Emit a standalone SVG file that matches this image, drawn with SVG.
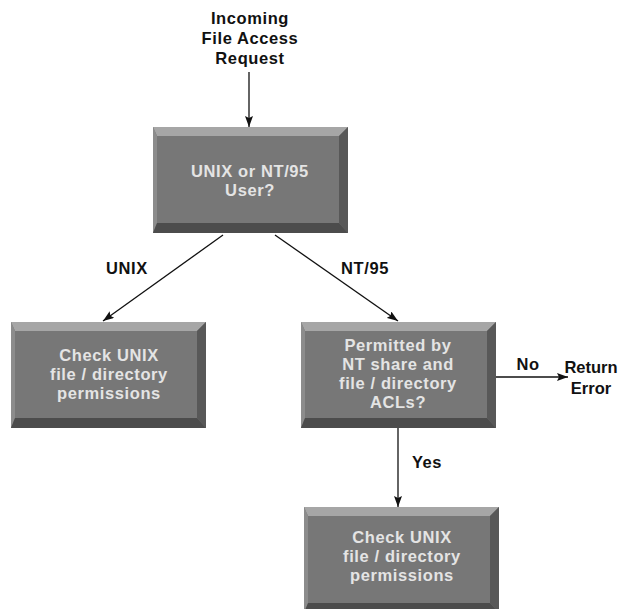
<svg xmlns="http://www.w3.org/2000/svg" xmlns:xlink="http://www.w3.org/1999/xlink" width="619" height="609" viewBox="0 0 619 609">
<style>
.t{font-family:"Liberation Sans",Arial,sans-serif;font-weight:bold;font-size:16.5px;letter-spacing:0.6px;text-anchor:middle}
.bt{fill:#e4e4e4}
.lb{fill:#111}
.ns{letter-spacing:0}
.c{stroke:#111;stroke-width:1.3;fill:none;marker-end:url(#ah)}
</style>
<defs>
<marker id="ah" markerUnits="userSpaceOnUse" markerWidth="12" markerHeight="8" refX="11" refY="4" orient="auto">
<path d="M0,0 L11,4 L0,8 L2,4 z" fill="#111"/>
</marker>
<symbol id="box" overflow="visible">
<rect x="0" y="0" width="195" height="106" fill="#777"/>
<polygon points="0,0 195,0 186,9 4,9" fill="#a6a6a6"/>
<polygon points="0,0 4,9 4,96 0,106" fill="#8c8c8c"/>
<polygon points="195,0 195,106 186,96 186,9" fill="#585858"/>
<polygon points="0,106 195,106 186,96 4,96" fill="#4c4c4c"/>
</symbol>
</defs>
<rect width="619" height="609" fill="#fff"/>
<g id="connectors">
<line class="c" x1="249" y1="72" x2="249" y2="127"/>
<line class="c" x1="223" y1="235" x2="103" y2="321"/>
<line class="c" x1="275" y1="235" x2="398" y2="321"/>
<line class="c" x1="495" y1="377" x2="568" y2="377"/>
<line class="c" x1="398" y1="427" x2="398" y2="507"/>
<text class="t lb" x="127" y="274">UNIX</text>
<text class="t lb" x="365" y="274">NT/95</text>
<text class="t lb" x="528" y="370">No</text>
<text class="t lb" x="427" y="468">Yes</text>
</g>
<g id="start">
<text class="t lb" x="250" y="24">Incoming</text>
<text class="t lb" x="250" y="44">File Access</text>
<text class="t lb" x="250" y="64">Request</text>
</g>
<g id="userType">
<use xlink:href="#box" x="153" y="127"/>
<text class="t bt" x="250" y="177">UNIX or NT/95</text>
<text class="t bt" x="250" y="196">User?</text>
</g>
<g id="checkUnixLeft">
<use xlink:href="#box" x="11" y="322"/>
<text class="t bt" x="109" y="361">Check UNIX</text>
<text class="t bt" x="109" y="380">file / directory</text>
<text class="t bt" x="109" y="399">permissions</text>
</g>
<g id="permitted">
<use xlink:href="#box" x="301" y="322"/>
<text class="t bt" x="398" y="351">Permitted by</text>
<text class="t bt" x="398" y="370">NT share and</text>
<text class="t bt" x="398" y="389">file / directory</text>
<text class="t bt" x="398" y="408">ACLs?</text>
</g>
<g id="returnError">
<text class="t lb ns" x="591" y="373">Return</text>
<text class="t lb ns" x="591" y="394">Error</text>
</g>
<g id="checkUnixBottom">
<use xlink:href="#box" x="304" y="507"/>
<text class="t bt" x="402" y="543">Check UNIX</text>
<text class="t bt" x="402" y="562">file / directory</text>
<text class="t bt" x="402" y="581">permissions</text>
</g>
</svg>
